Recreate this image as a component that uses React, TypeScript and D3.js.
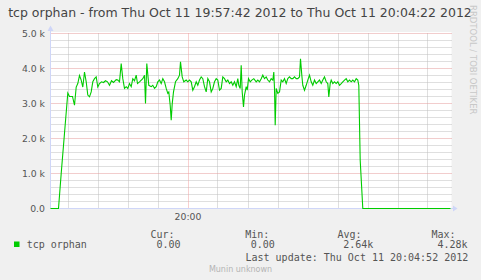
import React from "react";
import * as d3 from "d3";

const title = "tcp orphan - from Thu Oct 11 19:57:42 2012 to Thu Oct 11 20:04:22 2012";
const startTime = new Date(2012, 9, 11, 19, 57, 42);
const endTime = new Date(2012, 9, 11, 20, 4, 22);

// seconds after start, value (orphans)
const seconds = [
  0, 8, 10.7, 14, 17.3, 19, 22, 24, 25.7, 27.3, 29, 30.7, 32.3, 34, 35.7, 37.3, 39, 40.7, 42.3, 44,
  45.7, 47.3, 49, 51, 53, 55, 57, 59, 61, 63, 65.7, 67.3, 69, 70.7, 72.3, 74, 75.7, 77.3, 79, 80.7,
  82.3, 84, 85.7, 87, 89, 92.3, 94, 95, 96.3, 98.3, 100.7, 102.3, 104, 105.7, 107.3, 109, 110.7, 112.3, 114, 115.7,
  117.3, 118.3, 119.7, 120.7, 121.7, 123, 125, 127.3, 129, 130, 131.7, 133.3, 135.7, 137.3, 139, 140.7, 142.3, 144, 145.7, 147.3,
  149, 150.7, 152.3, 154, 155.7, 157.3, 159, 160.7, 162.3, 164, 165.7, 167.3, 169, 170.7, 172.3, 174, 175.7, 177.3, 179, 180.7,
  182.3, 184, 185.7, 187.3, 188.3, 189.7, 190.7, 191.7, 193, 194, 195.7, 196.7, 198, 199.7, 201.3, 203.3, 205.7, 207.3, 209, 210.7,
  212.3, 214, 215.7, 217.3, 219, 220.7, 222.3, 223.3, 224, 224.7, 225.7, 227.3, 229, 230.7, 232.3, 234, 235.7, 237.3, 239, 240.7,
  242.3, 244, 245.7, 247.3, 249, 250, 251.3, 252.3, 254, 255.7, 257.3, 259, 260.7, 262.3, 264, 265.7, 267.3, 269, 270.7, 272.3,
  274, 275.7, 277.3, 278.3, 279.7, 280.7, 282.3, 284, 285.7, 287.3, 289, 290.7, 292.3, 294, 295.7, 297.3, 299, 300.7, 302.3, 304,
  305.7, 307.3, 308.3, 309.7, 312.3, 400,
];
const orphans = [
  0, 0, 1000, 2150, 3300, 3200, 3200, 2950, 3470, 3570, 3800, 3670, 3470, 3900, 3620, 3240, 3190, 3330, 3620, 3710,
  3760, 3470, 3570, 3620, 3600, 3650, 3620, 3520, 3650, 3600, 3680, 3670, 3620, 4140, 3710, 3430, 3480, 3430, 3570, 3480,
  3710, 3650, 3810, 3570, 3620, 3710, 3810, 3000, 4140, 3520, 3480, 3520, 3430, 3480, 3620, 3670, 3570, 3710, 3620, 3430,
  3290, 3330, 2950, 2520, 2990, 3330, 3620, 3710, 3810, 4190, 3760, 3620, 3670, 3620, 3670, 3620, 3380, 3480, 3620, 3520,
  3670, 3760, 3710, 3480, 3330, 3710, 3620, 3330, 3430, 3620, 3710, 3670, 3380, 3430, 3760, 3710, 3620, 3670, 3570, 3620,
  3520, 3620, 3480, 3710, 3520, 3430, 4090, 3330, 2900, 3240, 3480, 3380, 3710, 3620, 3670, 3710, 3620, 3670, 3620, 3710,
  3810, 3710, 3760, 3670, 3620, 3710, 3670, 3900, 3430, 2380, 3430, 3290, 3330, 3670, 3620, 3710, 3570, 3710, 3760, 3710,
  3710, 3760, 3710, 3710, 3760, 4280, 3810, 3520, 3380, 3520, 3670, 3810, 3620, 3520, 3670, 3570, 3620, 3670, 3570, 3670,
  3760, 3620, 3570, 3190, 3570, 3670, 3570, 3620, 3570, 3620, 3520, 3570, 3620, 3670, 3710, 3620, 3670, 3620, 3670, 3620,
  3710, 3670, 3520, 1380, 0, 0,
];

const yTickValues = [0, 1000, 2000, 3000, 4000, 5000];
const yTickLabels = ["0.0", "1.0 k", "2.0 k", "3.0 k", "4.0 k", "5.0 k"];
const legendName = "tcp orphan";
const statHeaders = ["Cur:", "Min:", "Avg:", "Max:"];
const statValues = ["0.00", "0.00", "2.64k", "4.28k"];
const lastUpdate = "Last update: Thu Oct 11 20:04:52 2012";

const W = 481;
const H = 280;
const LINE = "#00CC00";
const AXIS = "#CFD6F8";
const FONT = "#555555";

export default function App() {
  const x = d3.scaleTime().domain([startTime, endTime]).range([50.5, 450.5]);
  const y = d3.scaleLinear().domain([0, 5000]).range([208.5, 33.5]);
  const t0 = startTime.getTime();
  const pts: [number, number][] = seconds.map((s, i) => [s, orphans[i]]);
  const line = d3
    .line<[number, number]>()
    .x((d) => x(new Date(t0 + d[0] * 1000)))
    .y((d) => y(d[1]));

  const minorX = x.ticks(d3.timeSecond.every(30)!);
  const majorX = x.ticks(d3.timeMinute.every(5)!);
  const minorY = d3.range(0, 5001, 200);
  const fmt = d3.timeFormat("%H:%M");
  const [x0, x1] = x.range();
  const [yb, yt] = y.range();

  const mono = "'DejaVu Sans Mono', monospace";
  const sans = "'DejaVu Sans', sans-serif";
  const headerX = [150.5, 245.3, 337.5, 431.5];
  const valueX = [156.5, 250.7, 343.2, 437.5];

  return (
    <svg width={W} height={H} style={{ display: "block", position: "absolute", left: 0, top: 0 }}>
      <rect x={0} y={0} width={W} height={H} fill="#F0F0F0" />
      <rect x={x0} y={yt - 1.5} width={x1 - x0 + 1} height={yb - yt + 1.5} fill="#FFFFFF" />
      {minorY.filter((v) => v % 1000 !== 0).map((v) => (
        <line key={"my" + v} x1={x0} x2={x1 + 1} y1={y(v)} y2={y(v)} stroke="#BEBEBE" strokeDasharray="1,1" />
      ))}
      {minorX.filter((d) => !majorX.some((m) => +m === +d)).map((d) => (
        <line key={"mx" + +d} x1={Math.round(x(d)) - 0.5} x2={Math.round(x(d)) - 0.5} y1={yt} y2={yb} stroke="#BEBEBE" strokeDasharray="1,1" />
      ))}
      {yTickValues.filter((v) => v > 0).map((v) => (
        <line key={"My" + v} x1={x0} x2={x1 + 1} y1={y(v)} y2={y(v)} stroke="#E49A9A" strokeDasharray="1,1" />
      ))}
      {majorX.map((d) => (
        <line key={"Mx" + +d} x1={Math.round(x(d)) - 0.5} x2={Math.round(x(d)) - 0.5} y1={yt} y2={yb} stroke="#F0A0A0" strokeDasharray="1,1" />
      ))}
      {/* axes */}
      <line x1={x0} x2={x1 + 3} y1={yb} y2={yb} stroke={AXIS} />
      <line x1={x0} x2={x0} y1={yb} y2={yt - 3} stroke={AXIS} />
      <path d={`M${x0},${yt - 8} L${x0 - 3},${yt - 2.5} L${x0 + 3},${yt - 2.5} Z`} fill={AXIS} />
      <path d={`M${x1 + 7},${yb} L${x1 + 2.5},${yb - 3} L${x1 + 2.5},${yb + 3} Z`} fill={AXIS} />
      <path d={line(pts) || ""} fill="none" stroke={LINE} strokeWidth={1.1} />
      {/* y labels */}
      {yTickValues.map((v, i) => (
        <text key={"yl" + v} x={45} y={y(v) + 3.3} textAnchor="end" fontFamily={sans} fontSize={9.3} fill={FONT}>
          {yTickLabels[i]}
        </text>
      ))}
      {majorX.map((d) => (
        <text key={"xl" + +d} x={x(d) - 0.5} y={219.5} textAnchor="middle" fontFamily={sans} fontSize={9.3} fill={FONT}>
          {fmt(d)}
        </text>
      ))}
      <text x={240} y={17} textAnchor="middle" fontFamily={sans} fontSize={12.5} fill="#444444">
        {title}
      </text>
      <text transform="translate(469.5,5) rotate(90)" fontFamily={sans} fontSize={8.5} fill="#C8C8C8">
        RRDTOOL / TOBI OETIKER
      </text>
      {/* legend */}
      <rect x={14} y={241.5} width={5.5} height={5.5} fill={LINE} />
      <text x={26.7} y={248} fontFamily={mono} fontSize={10} fill={FONT}>
        {legendName}
      </text>
      {statHeaders.map((h, i) => (
        <text key={h} x={headerX[i]} y={237.5} fontFamily={mono} fontSize={10} fill={FONT}>
          {h}
        </text>
      ))}
      {statValues.map((v, i) => (
        <text key={"sv" + i} x={valueX[i]} y={248} fontFamily={mono} fontSize={10} fill={FONT}>
          {v}
        </text>
      ))}
      <text x={245.5} y={261} fontFamily={mono} fontSize={10} fill={FONT}>
        {lastUpdate}
      </text>
      <text x={240.5} y={272} textAnchor="middle" fontFamily={sans} fontSize={8} fill="#B4B4B4">
        Munin unknown
      </text>
    </svg>
  );
}
